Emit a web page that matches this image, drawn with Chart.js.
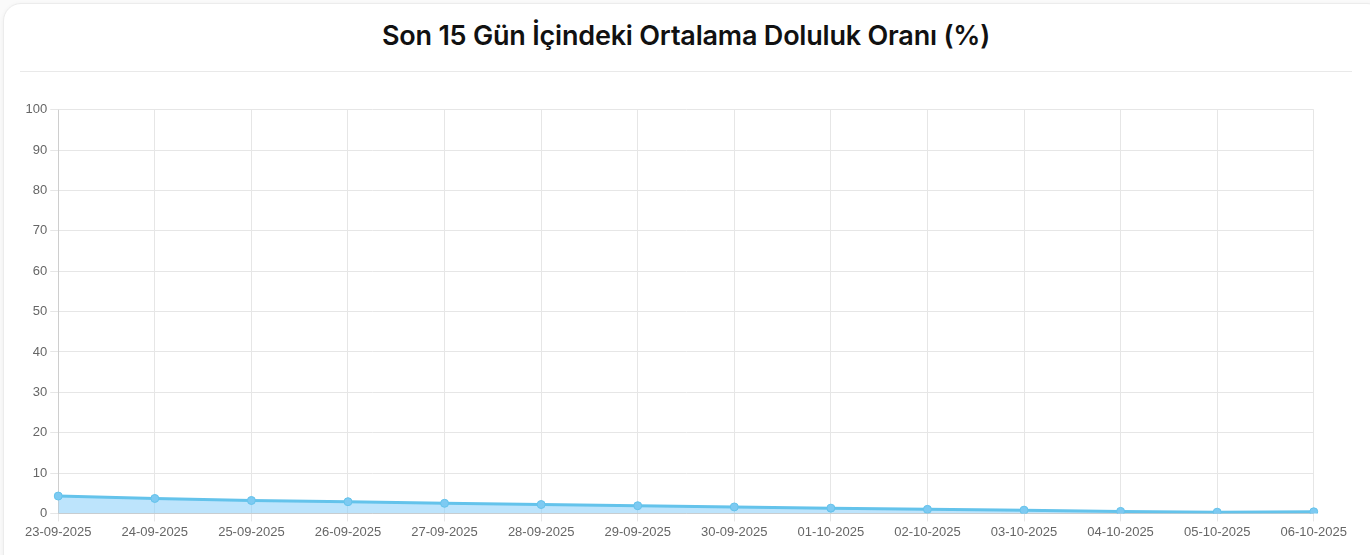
<!DOCTYPE html>
<html lang="tr">
<head>
<meta charset="utf-8">
<title>Doluluk Oranı</title>
<script src="https://cdn.jsdelivr.net/npm/chart.js@4.4.0/dist/chart.umd.min.js"></script>
<style>
  html, body { margin: 0; padding: 0; background: #fafafa; }
  .card {
    position: absolute; left: 3px; top: 3px; width: 1380px; height: 580px;
    background: #fff; border: 1px solid #ececec; border-radius: 18px;
    box-shadow: 0 1px 4px rgba(0,0,0,0.05);
  }
  .card h3 {
    position: absolute; left: 16px; top: 0; width: 1332px;
    margin: 0; height: 67px; line-height: 64px;
    text-align: center; font-family: Inter, "Noto Sans", sans-serif;
    font-weight: 600; font-size: 27px; color: #111; letter-spacing: -0.2px;
    border-bottom: 1px solid #e9e9e9;
  }
  .chart-box { position: absolute; left: 18px; top: 95px; width: 1328px; height: 444px; }
</style>
</head>
<body>
<div class="card">
  <h3>Son 15 Gün İçindeki Ortalama Doluluk Oranı (%)</h3>
  <div class="chart-box"><canvas id="graph"></canvas></div>
</div>
<script>
// tarih etiketleri
var labels = ['23-09-2025','24-09-2025','25-09-2025','26-09-2025','27-09-2025','28-09-2025','29-09-2025',
              '30-09-2025','01-10-2025','02-10-2025','03-10-2025','04-10-2025','05-10-2025','06-10-2025'];
// ortalama doluluk (%)
var doluluk = [4.3, 3.7, 3.2, 2.9, 2.5, 2.2, 1.9, 1.6, 1.3, 1.0, 0.8, 0.5, 0.3, 0.4];
var yMin = 0, yMax = 100, yStep = 10;

Chart.defaults.font.family = '"Liberation Sans", Arial, sans-serif';
Chart.defaults.font.size = 13;
Chart.defaults.color = '#666';

var ctx = document.getElementById('graph').getContext('2d');
window.myLine = new Chart(ctx, {
    type: 'line',
    data: {
        labels: labels,
        datasets: [{
            label: 'Doluluk',
            data: doluluk,
            fill: true,
            borderColor: 'rgb(100, 195, 235)',
            backgroundColor: 'rgba(135, 206, 250, 0.55)',
            borderWidth: 3,
            pointRadius: 4,
            pointBackgroundColor: 'rgb(125, 202, 242)',
            pointBorderColor: 'rgb(100, 195, 235)',
            pointBorderWidth: 1,
            tension: 0
        }]
    },
    options: {
        responsive: true,
        maintainAspectRatio: false,
        animation: false,
        layout: { padding: { top: 8, right: 0, bottom: 0, left: 0 } },
        plugins: { legend: { display: false }, tooltip: { enabled: false } },
        scales: {
            x: {
                grid: { color: '#e6e6e6' },
                ticks: { color: '#666', maxRotation: 0, autoSkip: false }
            },
            y: {
                min: yMin, max: yMax,
                grid: { color: '#e6e6e6' },
                ticks: { stepSize: yStep, color: '#666' }
            }
        }
    }
});
</script>
</body>
</html>
